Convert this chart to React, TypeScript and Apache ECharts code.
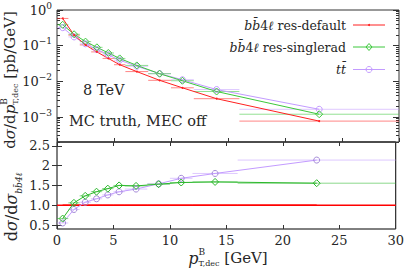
import React, { useEffect, useRef } from "react";
import * as echarts from "echarts";

// ---- data ----
const binEdges = [0, 1, 2, 3, 4, 5, 6, 8, 10, 12, 16, 30];
const binCenters = [0.5, 1.5, 2.5, 3.5, 4.5, 5.5, 7, 9, 11, 14, 23];
const resDefault = [0.58, 0.197, 0.105, 0.067, 0.044, 0.0293, 0.0188, 0.0107, 0.0066, 0.00327, 0.00077];
const resSinglerad = [0.385, 0.209, 0.13, 0.09, 0.0625, 0.044, 0.028, 0.0164, 0.0104, 0.0052, 0.0012];
const ttbar = [0.32, 0.176, 0.113, 0.078, 0.0555, 0.0393, 0.0265, 0.0165, 0.0111, 0.0059, 0.00165];

const logMajorTicks = [1, 0.1, 0.01, 0.001];
const ratioTicks = [0.5, 1, 1.5, 2, 2.5];
const ratioTickLabels = ["0.5", "1.0", "1.5", "2", "2.5"];
const xTicks = [0, 5, 10, 15, 20, 25, 30];
const legendNames = ["res-default", "res-singlerad", ""];
const annotations = ["8 TeV", "MC truth, MEC off"];

const SERIF = "DejaVu Serif";
const TEXT = "#262626";
const FRAME = "#333";
const RED = "#ff2020";
const GREEN = "#3cc83c";
const PURPLE = "#c39bff";

const logMinorTicks: number[] = [];
for (let e = -4; e < 0; e++) {
  for (let m = 2; m <= 9; m++) {
    const v = +(m * Math.pow(10, e)).toPrecision(6);
    if (v >= 2e-4 && v < 1) logMinorTicks.push(v);
  }
}

let measureCtx: CanvasRenderingContext2D | null = null;
function tw(t: string, size: number, italic?: boolean) {
  if (!measureCtx) measureCtx = document.createElement("canvas").getContext("2d");
  if (!measureCtx) return t.length * size * 0.6;
  measureCtx.font = `${italic ? "italic " : ""}${size}px "${SERIF}"`;
  return measureCtx.measureText(t).width;
}

type Seg = { t: string; size: number; italic?: boolean; dy?: number; stack?: boolean };
function buildRun(segs: Seg[]) {
  let x = 0;
  let lastStart = 0;
  let lastW = 0;
  const els: any[] = [];
  for (const s of segs) {
    const w = tw(s.t, s.size, s.italic);
    let sx: number;
    if (s.stack) {
      sx = lastStart;
      lastW = Math.max(lastW, w);
      x = lastStart + lastW;
    } else {
      sx = x;
      lastStart = x;
      lastW = w;
      x += w;
    }
    els.push({
      type: "text",
      x: sx,
      y: s.dy || 0,
      silent: true,
      style: {
        text: s.t,
        fontSize: s.size,
        fontFamily: SERIF,
        fontStyle: s.italic ? "italic" : "normal",
        fill: TEXT,
        align: "left",
        verticalAlign: "middle",
      },
    });
  }
  return { els, width: x };
}

function pts(vals: number[]) {
  return binCenters.map((x, i) => [x, vals[i]]);
}
function ratio(vals: number[]) {
  return vals.map((v, i) => v / resDefault[i]);
}

function lineSeries(
  vals: number[],
  color: string,
  symbol: string,
  size: number,
  xi: number,
  yi: number,
  width = 1,
  filled = false,
  markerColor?: string
) {
  return {
    type: "line",
    xAxisIndex: xi,
    yAxisIndex: yi,
    data: pts(vals),
    symbol,
    symbolSize: size,
    showSymbol: symbol !== "none",
    lineStyle: { color, width },
    itemStyle: filled
      ? { color }
      : { color: "rgba(0,0,0,0)", borderColor: markerColor || color, borderWidth: 1 },
    emphasis: { disabled: true },
    silent: true,
    z: 3,
  };
}

function binBars(vals: number[], color: string, xi: number, yi: number, opacity = 0.55, width = 1) {
  return {
    type: "custom",
    xAxisIndex: xi,
    yAxisIndex: yi,
    data: vals.map((v, i) => [binEdges[i], binEdges[i + 1], v]),
    encode: { x: [0, 1], y: 2 },
    silent: true,
    clip: true,
    z: 2,
    renderItem: (_p: any, api: any) => {
      const a = api.coord([api.value(0), api.value(2)]);
      const b = api.coord([api.value(1), api.value(2)]);
      return {
        type: "line",
        shape: { x1: a[0], y1: a[1], x2: b[0], y2: b[1] },
        style: { stroke: color, lineWidth: width, opacity },
      };
    },
  };
}

function legendRow(i: number, y: number, color: string, marker: any) {
  const rich = { m: { fontStyle: "italic", fontFamily: SERIF, fontSize: 12.5, fill: TEXT } };
  const label = i < 2 ? `{m|bb\u0304}4{m|\u2113} ${legendNames[i]}` : `{m|tt\u0304}`;
  return [
    {
      type: "text",
      x: 346,
      y,
      silent: true,
      style: { text: label, rich, fontFamily: SERIF, fontSize: 12.5, fill: TEXT, align: "right", verticalAlign: "middle" },
    },
    { type: "line", silent: true, shape: { x1: 353, y1: y, x2: 385, y2: y }, style: { stroke: color, lineWidth: 1 } },
    marker,
  ];
}

export default function App() {
  const ref = useRef<HTMLDivElement>(null);
  useEffect(() => {
    if (!ref.current) return;
    const chart = echarts.init(ref.current, null, { renderer: "svg" });

    const xTitle = buildRun([
      { t: "p", size: 16, italic: true },
      { t: "B", size: 9, dy: -6 },
      { t: "T,dec", size: 8, dy: 5, stack: true },
      { t: " [GeV]", size: 15 },
    ]);
    const yTitleTop = buildRun([
      { t: "d", size: 15 },
      { t: "\u03c3", size: 15, italic: true },
      { t: "/d", size: 15 },
      { t: "p", size: 15, italic: true },
      { t: "B", size: 9, dy: -6 },
      { t: "T,dec", size: 8, dy: 5, stack: true },
      { t: " [pb/GeV]", size: 15 },
    ]);
    const yTitleBot = buildRun([
      { t: "d", size: 16 },
      { t: "\u03c3", size: 16, italic: true },
      { t: "/d", size: 16 },
      { t: "\u03c3", size: 16, italic: true },
      { t: "bb\u03044\u2113", size: 9, italic: true, dy: 8 },
    ]);

    const rowYs = [25, 47, 69.5];
    const graphic: any[] = [
      { type: "group", x: 228 - xTitle.width / 2, y: 258, children: xTitle.els },
      { type: "group", x: 10, y: 80 + yTitleTop.width / 2, rotation: Math.PI / 2, children: yTitleTop.els },
      { type: "group", x: 11, y: 207 + yTitleBot.width / 2, rotation: Math.PI / 2, children: yTitleBot.els },
      {
        type: "text", x: 83, y: 90, silent: true,
        style: { text: annotations[0], fontFamily: SERIF, fontSize: 14.5, fill: TEXT, align: "left", verticalAlign: "middle" },
      },
      {
        type: "text", x: 69, y: 120.5, silent: true,
        style: { text: annotations[1], fontFamily: SERIF, fontSize: 14.5, fill: TEXT, align: "left", verticalAlign: "middle" },
      },
      ...legendRow(0, rowYs[0], RED, { type: "circle", silent: true, shape: { cx: 369, cy: rowYs[0], r: 1 }, style: { fill: RED } }),
      ...legendRow(1, rowYs[1], GREEN, {
        type: "polygon", silent: true,
        shape: { points: [[369, rowYs[1] - 3.5], [372, rowYs[1]], [369, rowYs[1] + 3.5], [366, rowYs[1]]] },
        style: { fill: "none", stroke: GREEN, lineWidth: 1 },
      }),
      ...legendRow(2, rowYs[2], PURPLE, {
        type: "circle", silent: true, shape: { cx: 369, cy: rowYs[2], r: 3 },
        style: { fill: "none", stroke: PURPLE, lineWidth: 1 },
      }),
    ];

    const noSplit = { show: false };
    const labelStyle = { fontFamily: SERIF, fontSize: 13, color: TEXT };

    const logAxis = (position: string, ticks: number[], len: number, labels: boolean) => ({
      type: "log",
      gridIndex: 0,
      position,
      min: 2e-4,
      max: 1,
      logBase: 10,
      axisLine: { show: false },
      splitLine: noSplit,
      axisTick: { show: true, inside: true, length: len, customValues: ticks, lineStyle: { color: FRAME } },
      axisLabel: labels
        ? {
            show: true,
            margin: 5,
            customValues: ticks,
            ...labelStyle,
            formatter: (v: number) => {
              const e = Math.round(Math.log10(v));
              return e === 0 ? "10{s|0}" : `10{s|\u2212${-e}}`;
            },
            rich: { s: { fontFamily: SERIF, fontSize: 9, color: TEXT, padding: [0, 0, 9, 0] } },
          }
        : { show: false },
    });

    const ratioAxis = (position: string, labels: boolean) => ({
      type: "value",
      gridIndex: 1,
      position,
      min: 0.4,
      max: 2.6,
      axisLine: { show: false },
      splitLine: noSplit,
      axisTick: { show: true, inside: true, length: 5, customValues: ratioTicks, lineStyle: { color: FRAME } },
      axisLabel: labels
        ? {
            show: true,
            margin: 7,
            customValues: ratioTicks,
            ...labelStyle,
            formatter: (v: number) => {
              const k = ratioTicks.findIndex((t) => Math.abs(t - v) < 1e-9);
              return k >= 0 ? ratioTickLabels[k] : String(v);
            },
          }
        : { show: false },
    });

    const xAxisBase = (gridIndex: number, position: string, labels: boolean) => ({
      type: "value",
      gridIndex,
      position,
      min: 0,
      max: 30,
      axisLine: { show: false },
      splitLine: noSplit,
      axisTick: { show: true, inside: true, length: 4, customValues: xTicks, lineStyle: { color: FRAME } },
      axisLabel: labels ? { show: true, margin: 5, customValues: xTicks, ...labelStyle } : { show: false },
    });

    const option: any = {
      animation: false,
      backgroundColor: "#fff",
      grid: [
        { left: 57, right: 8, top: 10, height: 132, show: true, borderColor: FRAME, borderWidth: 1, backgroundColor: "transparent" },
        { left: 57, right: 8, top: 142, height: 87, show: true, borderColor: "#000", borderWidth: 1, backgroundColor: "transparent" },
      ],
      xAxis: [xAxisBase(0, "bottom", false), xAxisBase(1, "bottom", true), xAxisBase(1, "top", false)],
      yAxis: [
        logAxis("left", logMajorTicks, 6, true),
        logAxis("left", logMinorTicks, 3, false),
        logAxis("right", logMajorTicks, 6, false),
        logAxis("right", logMinorTicks, 3, false),
        ratioAxis("left", true),
        ratioAxis("right", false),
      ],
      graphic,
      series: [
        binBars(ttbar, PURPLE, 0, 0),
        binBars(resSinglerad, GREEN, 0, 0),
        binBars(resDefault, RED, 0, 0),
        lineSeries(ttbar, PURPLE, "circle", 6, 0, 0),
        lineSeries(resSinglerad, GREEN, "diamond", 7, 0, 0),
        lineSeries(resDefault, RED, "circle", 2, 0, 0, 1, true),
        binBars(ratio(resDefault), "#ff0000", 1, 4, 1, 1.5),
        lineSeries(ratio(resDefault), "#ff0000", "none", 0, 1, 4, 1.5, true),
        binBars(ratio(ttbar), PURPLE, 1, 4),
        binBars(ratio(resSinglerad), "#2cb82c", 1, 4),
        lineSeries(ratio(ttbar), PURPLE, "circle", 6, 1, 4, 1, false, "#a48ad8"),
        lineSeries(ratio(resSinglerad), "#2cb82c", "diamond", 7, 1, 4),
      ],
    };
    chart.setOption(option);
    return () => chart.dispose();
  }, []);
  return <div ref={ref} style={{ width: 407, height: 271, position: "absolute", left: 0, top: 0 }} />;
}
